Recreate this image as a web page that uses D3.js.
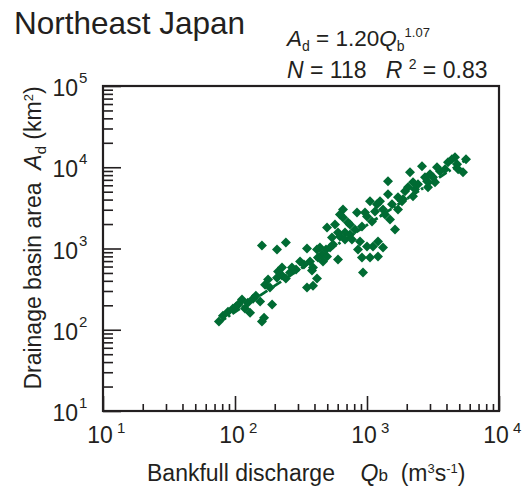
<!DOCTYPE html>
<html><head><meta charset="utf-8">
<script src="https://cdn.jsdelivr.net/npm/d3@7"></script>
<style>
body{margin:0;background:#fff}
svg text{font-family:"Liberation Sans",Arial,Helvetica,sans-serif;fill:#231f20;white-space:pre}
</style>
</head><body>
<svg id="chart" width="527" height="494"></svg>
<script>
// Bankfull discharge Qb (m3/s) and drainage basin area Ad (km2)
const dischargeQb = [75.6,81,88.5,96.6,107,113,119,130,137,155,160,166,191,169,178,208,227,243,261,290,
 160,208,243,311,351,370,390,351,390,418,383,418,440,456,464,498,498,543,553,572,603,603,624,658,658,681,718,743,840,885,
 916,916,933,966,1054,1054,1091,1110,1190,1211,1211,1254,1322,1443,1443,1494,1547,1630,1842,1874,2045,2117,2231,2231,2610,2898,2850,3000,3275,3573,
 4110,4400,4810,4900,5336,4640,333,425,489,525,681,743,811,1000,1150,1322,1717,1941,2434,2750,
 3390,3900,227,270,101.8,125,144,184,212,624,769,1000,1369,1717,2310,3162,5623,855];
const basinAreaAd = [126,149,167,182,209,235,182,162,241,222,126,141,204,359,414,438,464,426,506,551,
 1089,972,1186,691,1000,691,583,330,349,426,535,972,1029,843,691,796,1816,1367,1120,1979,1576,731,1406,3030,2414,1576,2094,1979,2782,1220,
 1869,774,506,2782,3803,774,2154,1058,3493,1220,796,3803,1029,6720,4642,2280,3493,1717,3803,4027,5664,8680,6530,4385,10290,5664,6720,8196,6530,8930,
 11530,12550,10890,9450,8680,13290,635,774,972,1029,1291,1488,1717,2484,2862,3030,4262,5060,6170,7530,
 10000,9450,583,583,192,215,263,330,520,2630,1291,1058,2630,3030,5350,7530,12550,972];
const xTickExponents = [1,2,3,4];
const yTickExponents = [1,2,3,4,5];
const fitCoef = 1.20, fitPower = 1.07;
const fitQRange = [75, 5600];

const green = "#006b33", ink = "#231f20";
const svg = d3.select("#chart");
const x = d3.scaleLog().domain([10, 1e4]).range([103, 499]);
const y = d3.scaleLog().domain([10, 1e5]).range([411, 86]);

const minorsOf = (lo, hi) => { const a=[]; for (let e=lo;e<hi;e++) for (let m=2;m<=9;m++) a.push(m*Math.pow(10,e)); return a; };

// Axes (ticks pointing inward)
const gx = svg.append("g").attr("transform","translate(0,411)");
gx.call(d3.axisBottom(x).tickValues(xTickExponents.map(e=>Math.pow(10,e))).tickSize(-15).tickFormat(""));
const gxm = svg.append("g").attr("transform","translate(0,411)");
gxm.call(d3.axisBottom(x).tickValues(minorsOf(1,4)).tickSize(-7).tickFormat(""));
const gy = svg.append("g").attr("transform","translate(103,0)");
gy.call(d3.axisLeft(y).tickValues(yTickExponents.map(e=>Math.pow(10,e))).tickSize(-18).tickFormat(""));
const gym = svg.append("g").attr("transform","translate(103,0)");
gym.call(d3.axisLeft(y).tickValues(minorsOf(1,5)).tickSize(-10).tickFormat(""));
svg.selectAll(".domain").remove();
svg.selectAll(".tick line").attr("stroke", ink).attr("stroke-width", 1.6);

// Frame
svg.append("rect").attr("x",103).attr("y",86).attr("width",396).attr("height",325)
  .attr("fill","none").attr("stroke",ink).attr("stroke-width",2.2);

// Tick labels
yTickExponents.forEach(e => {
  const v = Math.pow(10,e), yy = y(v);
  svg.append("text").attr("x",78).attr("y",yy+10).attr("text-anchor","end").attr("font-size",23).text("10");
  svg.append("text").attr("x",79).attr("y",yy-3).attr("font-size",15).text(e);
});
xTickExponents.forEach(e => {
  const v = Math.pow(10,e), xx = x(v);
  svg.append("text").attr("x",xx-3).attr("y",443).attr("text-anchor","middle").attr("font-size",23).text("10");
  svg.append("text").attr("x",xx+14).attr("y",433).attr("font-size",15).text(e);
});

// Fit line
const fitData = d3.range(0,41).map(i => {
  const q = Math.exp(Math.log(fitQRange[0]) + i/40*(Math.log(fitQRange[1])-Math.log(fitQRange[0])));
  return [q, fitCoef*Math.pow(q, fitPower)];
});
svg.append("path").datum(fitData)
  .attr("d", d3.line().x(d=>x(d[0])).y(d=>y(d[1])))
  .attr("fill","none").attr("stroke",green).attr("stroke-width",2.8)
  .attr("stroke-dasharray","9,2.5,2.5,2.5");

// Points (diamonds)
svg.append("g").selectAll("path").data(dischargeQb.map((q,i)=>[q,basinAreaAd[i]])).join("path")
  .attr("transform", d => `translate(${x(d[0])},${y(d[1])}) rotate(45)`)
  .attr("d", d3.symbol(d3.symbolSquare, 50)())
  .attr("fill", green);

// Title & equations
svg.append("text").attr("x",14).attr("y",34).attr("font-size",31.5).text("Northeast Japan");
const eq1 = svg.append("text").attr("x",287).attr("y",46).attr("font-size",22.5);
eq1.append("tspan").attr("font-style","italic").text("A");
eq1.append("tspan").attr("font-size",14).attr("dy",5).text("d");
eq1.append("tspan").attr("dy",-5).text(" = 1.20");
eq1.append("tspan").attr("font-style","italic").text("Q");
eq1.append("tspan").attr("font-size",14).attr("dy",5).text("b");
eq1.append("tspan").attr("font-size",13).attr("dy",-14).text("1.07");
const eq2 = svg.append("text").attr("x",287).attr("y",78).attr("font-size",23);
eq2.append("tspan").attr("font-style","italic").text("N");
eq2.append("tspan").text(" = 118   ");
eq2.append("tspan").attr("font-style","italic").text("R ");
eq2.append("tspan").attr("font-size",14).attr("dy",-9).text("2");
eq2.append("tspan").attr("dy",9).text(" = 0.83");

// Axis titles
const xl = svg.append("text").attr("x",147).attr("y",481).attr("font-size",23);
xl.append("tspan").text("Bankfull discharge    ");
xl.append("tspan").attr("font-style","italic").text("Q");
xl.append("tspan").attr("font-size",17).text("b");
xl.append("tspan").text("  (m");
xl.append("tspan").attr("font-size",13).attr("dy",-8).text("3");
xl.append("tspan").attr("dy",8).text("s");
xl.append("tspan").attr("font-size",13).attr("dy",-8).text("-1");
xl.append("tspan").attr("dy",8).text(")");

const yl = svg.append("text").attr("transform","translate(41,238) rotate(-90)").attr("text-anchor","middle").attr("font-size",23);
yl.append("tspan").text("Drainage basin area  ");
yl.append("tspan").attr("font-style","italic").text("A");
yl.append("tspan").attr("font-size",15).attr("dy",5).text("d");
yl.append("tspan").attr("dy",-5).text(" (km");
yl.append("tspan").attr("font-size",13).attr("dy",-8).text("2");
yl.append("tspan").attr("dy",8).text(")");
</script>
</body></html>
